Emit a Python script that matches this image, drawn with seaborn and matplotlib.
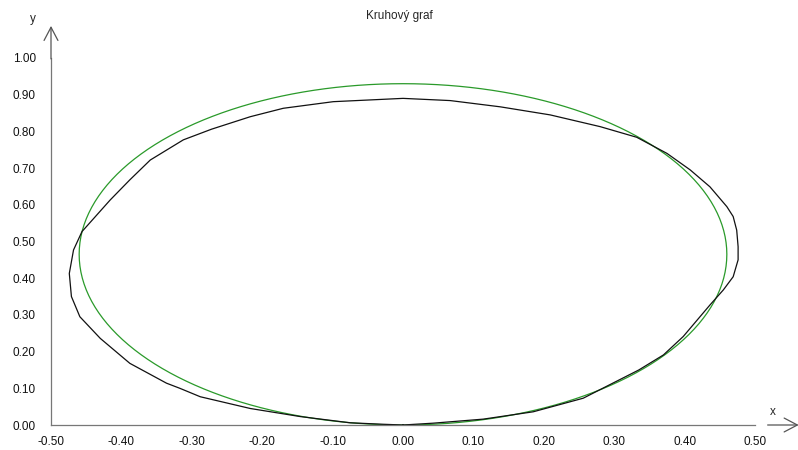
import numpy as np
import pandas as pd
import matplotlib
matplotlib.use("Agg")
import matplotlib.pyplot as plt
import seaborn as sns

title = "Kruhový graf"
x_ticks = [-0.5, -0.4, -0.3, -0.2, -0.1, 0.0, 0.1, 0.2, 0.3, 0.4, 0.5]
y_ticks = [0.0, 0.1, 0.2, 0.3, 0.4, 0.5, 0.6, 0.7, 0.8, 0.9, 1.0]

# measured (black) curve
black_x = [0.0, 0.043, 0.114, 0.185, 0.256, 0.298, 0.335, 0.370, 0.398, 0.436, 0.455,
           0.469, 0.476, 0.476, 0.474, 0.469, 0.460, 0.436, 0.408, 0.375, 0.332, 0.280,
           0.209, 0.138, 0.067, 0.0, -0.099, -0.170, -0.217, -0.272, -0.312, -0.359,
           -0.388, -0.416, -0.456, -0.468, -0.474, -0.471, -0.459, -0.430, -0.388,
           -0.336, -0.317, -0.288, -0.217, -0.146, -0.075, -0.028, 0.0]
black_y = [0.0, 0.005, 0.016, 0.036, 0.073, 0.114, 0.150, 0.191, 0.241, 0.327, 0.368,
           0.404, 0.450, 0.486, 0.531, 0.568, 0.595, 0.649, 0.695, 0.740, 0.784, 0.813,
           0.845, 0.867, 0.884, 0.890, 0.881, 0.863, 0.840, 0.806, 0.777, 0.722,
           0.668, 0.613, 0.527, 0.477, 0.413, 0.350, 0.295, 0.236, 0.168,
           0.114, 0.100, 0.077, 0.045, 0.023, 0.006, 0.002, 0.0]

# ideal (green) circle drawn as an ellipse in these axes
green_center = (0.0, 0.465)
green_radii = (0.46, 0.465)

sns.set_style("white")
plt.rcParams['font.family'] = ['Liberation Sans', 'DejaVu Sans']

fig = plt.figure(figsize=(7.98, 4.5), dpi=100)
ax = fig.add_axes([51/798, 25/450, (755-51)/798, (425-58)/450])

t = np.linspace(0, 2*np.pi, 361)
green_df = pd.DataFrame({"x": green_center[0] + green_radii[0]*np.sin(t),
                         "y": green_center[1] - green_radii[1]*np.cos(t)})
black_df = pd.DataFrame({"x": black_x, "y": black_y})

sns.lineplot(data=green_df, x="x", y="y", sort=False, estimator=None,
             color="#2a9a2a", linewidth=0.9, ax=ax)
sns.lineplot(data=black_df, x="x", y="y", sort=False, estimator=None,
             color="#111111", linewidth=0.9, ax=ax)

ax.set_xlim(-0.5, 0.5)
ax.set_ylim(0.0, 1.0)
ax.set_xticks(x_ticks)
ax.set_yticks(y_ticks)
ax.set_xticklabels([f"{v:.2f}" for v in x_ticks])
ax.set_yticklabels([f"{v:.2f}" for v in y_ticks])
ax.tick_params(axis='both', direction='out', width=0.9, color="#555555",
               labelsize=8.5, labelcolor="#111111")
ax.tick_params(axis='y', length=8, pad=3)
ax.tick_params(axis='x', length=5, pad=3)
ax.set_xlabel("")
ax.set_ylabel("")

for s in ["top", "right"]:
    ax.spines[s].set_visible(False)
for s in ["left", "bottom"]:
    ax.spines[s].set_color("#777777")
    ax.spines[s].set_linewidth(0.9)

# y axis arrow
ax.annotate("", xy=(0, 1.095), xytext=(0, 0.99), xycoords='axes fraction',
            arrowprops=dict(arrowstyle="->,head_length=0.95,head_width=0.5",
                            color="#555555", lw=0.9), annotation_clip=False)
ax.text(-0.025, 1.09, "y", transform=ax.transAxes, fontsize=8.5, ha="center", va="bottom")
# x axis arrow
ax.annotate("", xy=(1.066, 0.0), xytext=(1.014, 0.0), xycoords='axes fraction',
            arrowprops=dict(arrowstyle="->,head_length=0.95,head_width=0.5",
                            color="#555555", lw=0.9), annotation_clip=False)
ax.text(1.025, 0.018, "x", transform=ax.transAxes, fontsize=8.5, ha="center", va="bottom")

fig.text(0.5, 1 - 16/450, title, ha="center", va="center", fontsize=8.5)

fig.savefig("out.png", dpi=100)
